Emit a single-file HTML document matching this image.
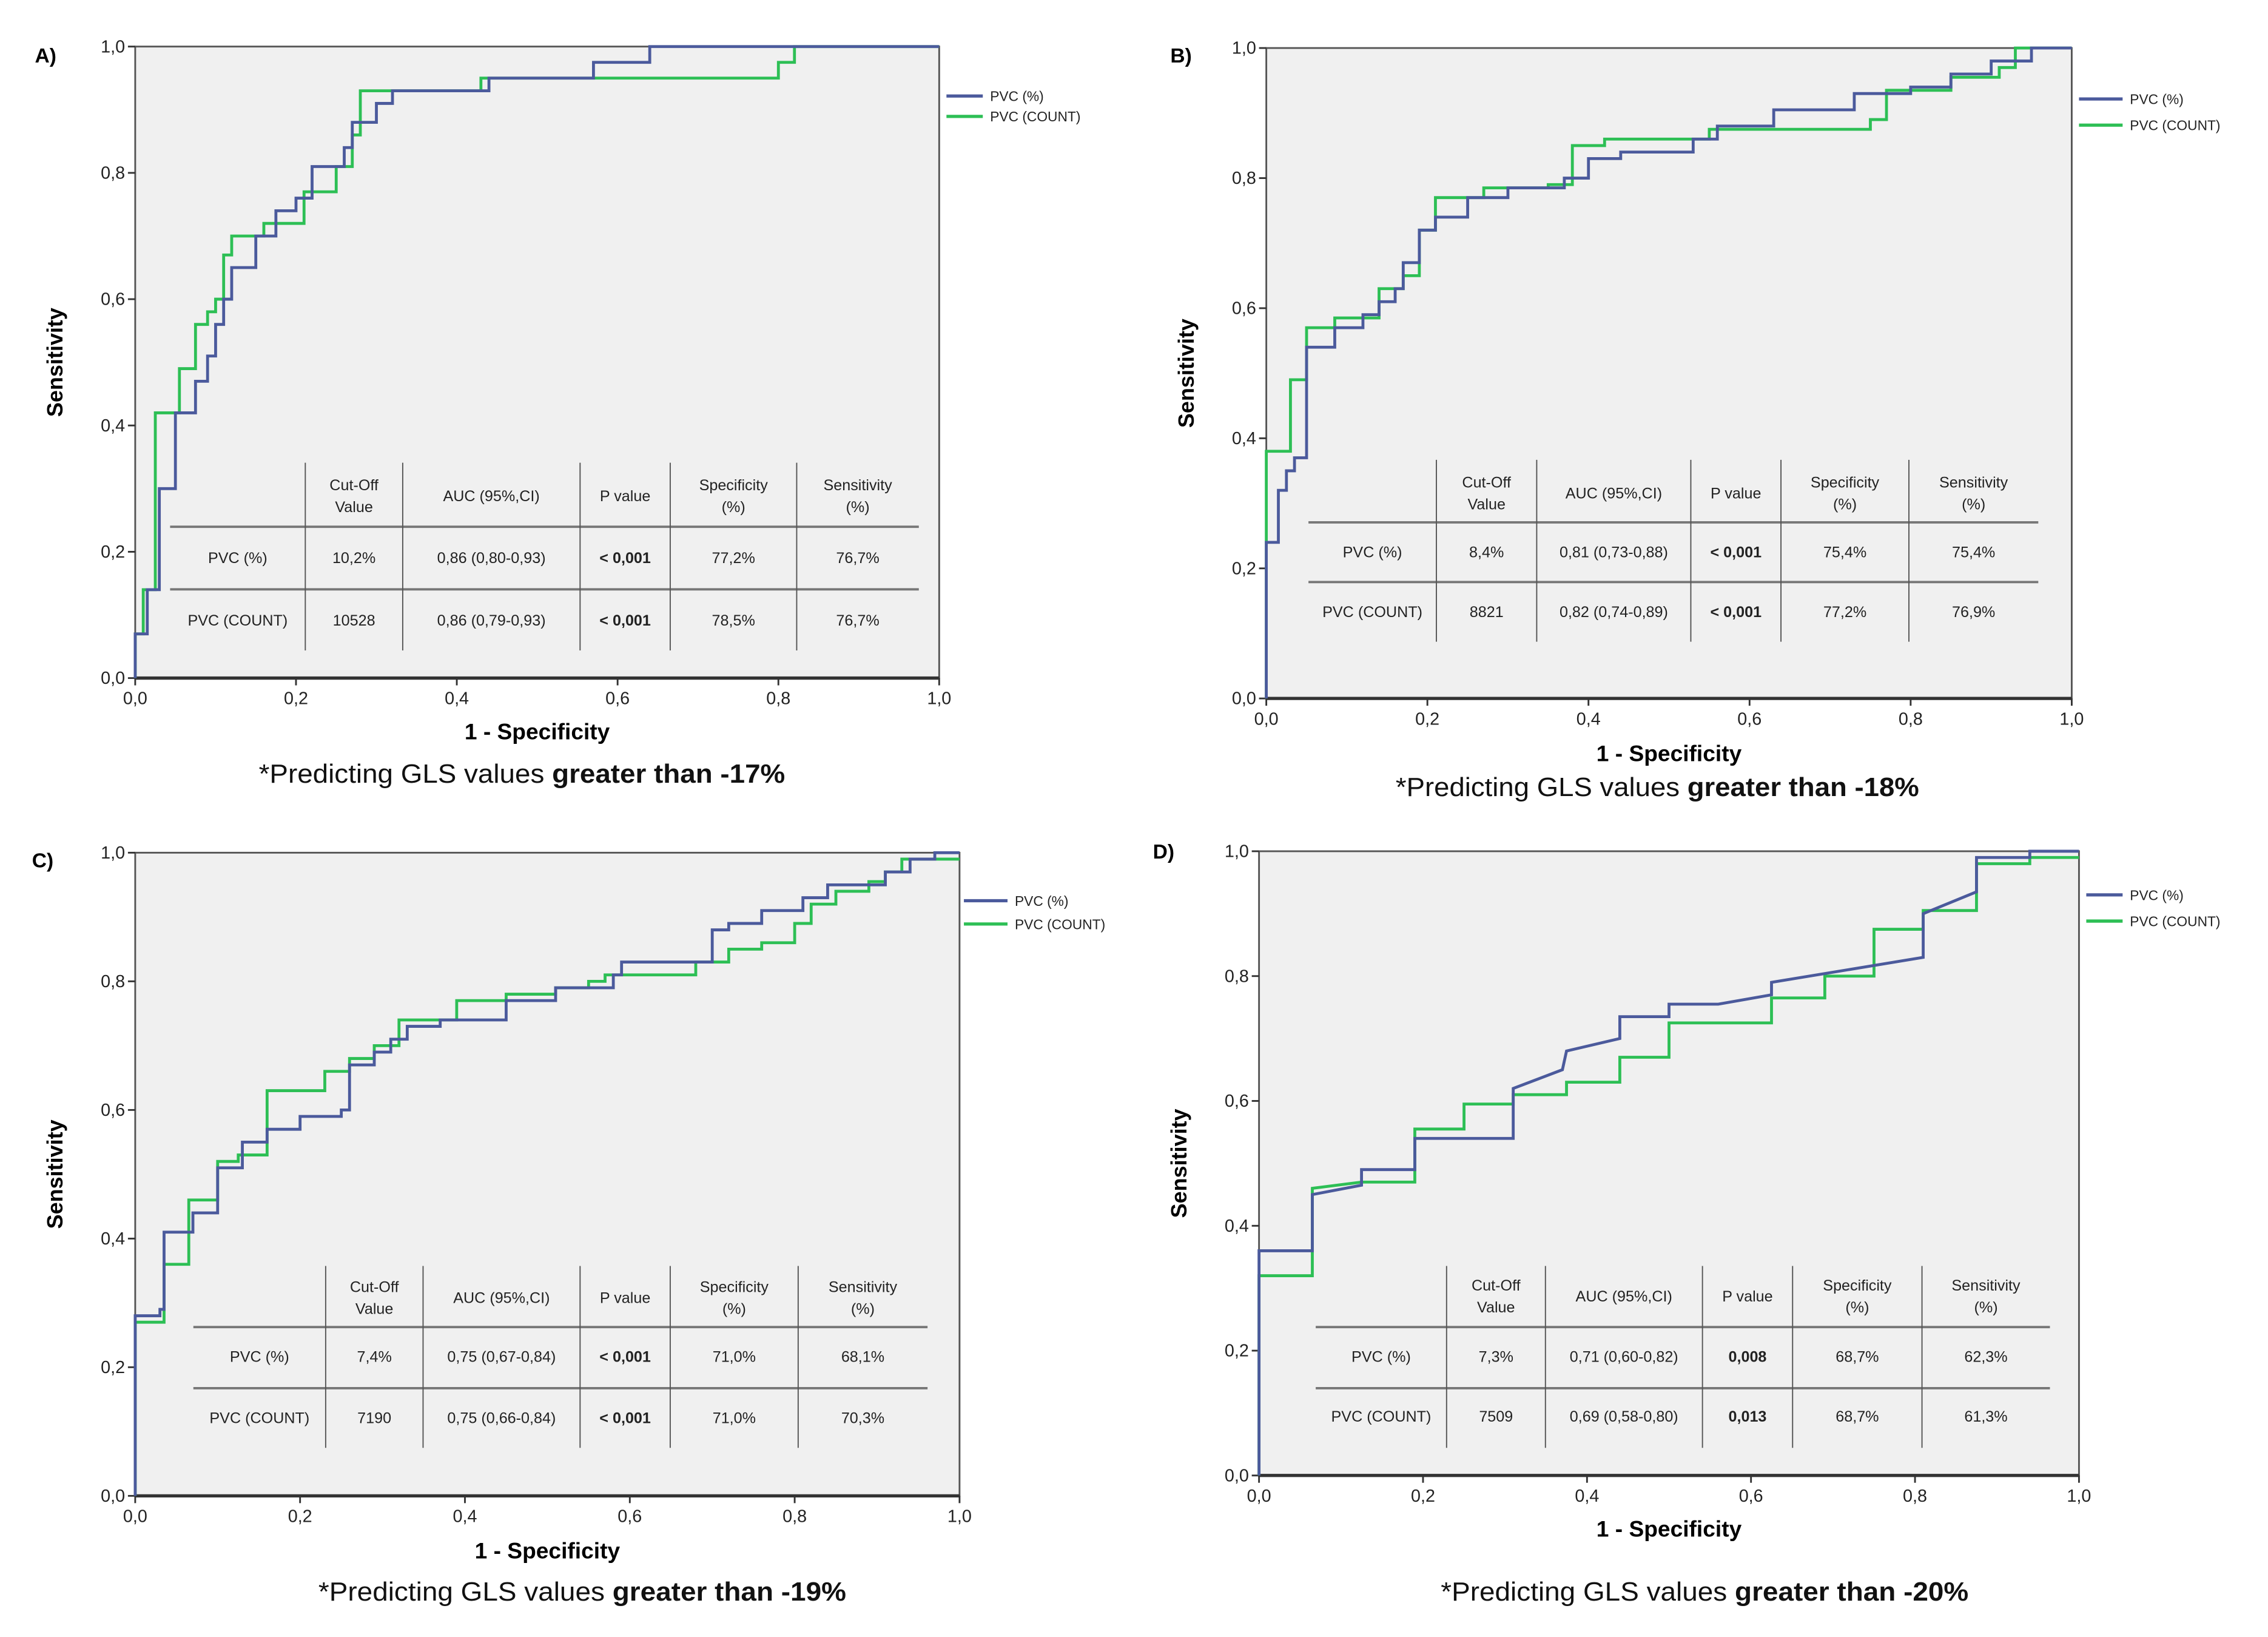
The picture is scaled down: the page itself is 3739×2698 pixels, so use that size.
<!DOCTYPE html>
<html><head><meta charset="utf-8"><style>
html,body{margin:0;padding:0;background:#fff}
svg{display:block}
text{font-family:"Liberation Sans",sans-serif}
</style></head><body>
<svg id="fig" width="3739" height="2698" viewBox="0 0 1560 1125" preserveAspectRatio="none" xmlns="http://www.w3.org/2000/svg"></svg>
<script>
const ticks = [0, 0.2, 0.4, 0.6, 0.8, 1.0];
const tickLabels = ["0,0","0,2","0,4","0,6","0,8","1,0"];
const seriesNames = ["PVC (%)","PVC (COUNT)"];
const tableHeader = [["",""],["Cut-Off","Value"],["AUC (95%,CI)",""],["P value",""],["Specificity","(%)"],["Sensitivity","(%)"]];

const aBlueX=[0,0,0.015,0.03,0.05,0.075,0.09,0.10,0.11,0.12,0.15,0.175,0.20,0.22,0.26,0.27,0.30,0.32,0.44,0.57,0.64,1];
const aBlueY=[0,0.07,0.14,0.30,0.42,0.47,0.51,0.56,0.60,0.65,0.70,0.74,0.76,0.81,0.84,0.88,0.91,0.93,0.95,0.975,1,1];
const aGreenX=[0,0,0.01,0.025,0.055,0.075,0.09,0.10,0.11,0.12,0.16,0.21,0.25,0.27,0.28,0.43,0.80,0.82,1];
const aGreenY=[0,0.07,0.14,0.42,0.49,0.56,0.58,0.60,0.67,0.70,0.72,0.77,0.81,0.86,0.93,0.95,0.975,1,1];
const bBlueX=[0,0,0.015,0.025,0.035,0.05,0.085,0.12,0.14,0.16,0.17,0.19,0.21,0.25,0.30,0.37,0.40,0.44,0.53,0.56,0.63,0.73,0.80,0.85,0.90,0.95,1];
const bBlueY=[0,0.24,0.32,0.35,0.37,0.54,0.57,0.59,0.61,0.63,0.67,0.72,0.74,0.77,0.785,0.80,0.83,0.84,0.86,0.88,0.905,0.93,0.94,0.96,0.98,1,1];
const bGreenX=[0,0,0.03,0.05,0.085,0.14,0.17,0.19,0.21,0.27,0.35,0.38,0.42,0.55,0.75,0.77,0.85,0.91,0.93,1];
const bGreenY=[0,0.38,0.49,0.57,0.585,0.63,0.65,0.72,0.77,0.785,0.79,0.85,0.86,0.875,0.89,0.935,0.955,0.97,1,1];
const cBlueX=[0,0,0.03,0.035,0.07,0.10,0.13,0.16,0.20,0.25,0.26,0.29,0.31,0.33,0.37,0.45,0.51,0.58,0.59,0.70,0.72,0.76,0.81,0.84,0.91,0.94,0.97,1];
const cBlueY=[0,0.28,0.29,0.41,0.44,0.51,0.55,0.57,0.59,0.60,0.67,0.69,0.71,0.73,0.74,0.77,0.79,0.81,0.83,0.88,0.89,0.91,0.93,0.95,0.97,0.99,1,1];
const cGreenX=[0,0,0.035,0.065,0.10,0.125,0.16,0.23,0.26,0.29,0.32,0.39,0.45,0.51,0.55,0.57,0.68,0.72,0.76,0.80,0.82,0.85,0.89,0.91,0.93,1];
const cGreenY=[0,0.27,0.36,0.46,0.52,0.53,0.63,0.66,0.68,0.70,0.74,0.77,0.78,0.79,0.80,0.81,0.83,0.85,0.86,0.89,0.92,0.94,0.955,0.97,0.99,0.99];
const dBlueX=[0,0,0.065,0.065,0.125,0.125,0.19,0.19,0.31,0.31,0.37,0.375,0.44,0.44,0.50,0.50,0.56,0.625,0.625,0.81,0.81,0.875,0.875,0.94,0.94,1];
const dBlueY=[0,0.36,0.36,0.45,0.465,0.49,0.49,0.54,0.54,0.62,0.65,0.68,0.70,0.735,0.735,0.755,0.755,0.77,0.79,0.83,0.90,0.935,0.99,0.99,1,1];
const dGreenX=[0,0,0.065,0.065,0.125,0.19,0.19,0.25,0.25,0.31,0.31,0.375,0.375,0.44,0.44,0.50,0.50,0.625,0.625,0.69,0.69,0.75,0.75,0.81,0.81,0.875,0.875,0.94,0.94,1];
const dGreenY=[0,0.32,0.32,0.46,0.47,0.47,0.555,0.555,0.595,0.595,0.61,0.61,0.63,0.63,0.67,0.67,0.725,0.725,0.765,0.765,0.80,0.80,0.875,0.875,0.905,0.905,0.98,0.98,0.99,0.99];

const aRow1=["PVC (%)","10,2%","0,86 (0,80-0,93)","< 0,001","77,2%","76,7%"];
const aRow2=["PVC (COUNT)","10528","0,86 (0,79-0,93)","< 0,001","78,5%","76,7%"];
const bRow1=["PVC (%)","8,4%","0,81 (0,73-0,88)","< 0,001","75,4%","75,4%"];
const bRow2=["PVC (COUNT)","8821","0,82 (0,74-0,89)","< 0,001","77,2%","76,9%"];
const cRow1=["PVC (%)","7,4%","0,75 (0,67-0,84)","< 0,001","71,0%","68,1%"];
const cRow2=["PVC (COUNT)","7190","0,75 (0,66-0,84)","< 0,001","71,0%","70,3%"];
const dRow1=["PVC (%)","7,3%","0,71 (0,60-0,82)","0,008","68,7%","62,3%"];
const dRow2=["PVC (COUNT)","7509","0,69 (0,58-0,80)","0,013","68,7%","61,3%"];

const panels=[
 {id:"a",label:"A)",lx:24,ly:43,x0:93,x1:646,y0:32,y1:466,blue:[aBlueX,aBlueY],green:[aGreenX,aGreenY],step:true,
  cols:[117,210,277,399,461,548,632],hy:[362,405],vy:[318,447],ty:[333,348,383,426],leg:[651,676,66,80],xt:505,cap:[178,540,535],capNum:"-17%",rows:[aRow1,aRow2]},
 {id:"b",label:"B)",lx:805,ly:43,x0:871,x1:1425,y0:33,y1:480,blue:[bBlueX,bBlueY],green:[bGreenX,bGreenY],step:true,
  cols:[900,988,1057,1163,1225,1313,1402],hy:[359,400],vy:[316,441],ty:[331,346,379,420],leg:[1430,1460,68,86],xt:520,cap:[960,1320,544],capNum:"-18%",rows:[bRow1,bRow2]},
 {id:"c",label:"C)",lx:22,ly:596,x0:93,x1:660,y0:586,y1:1028,blue:[cBlueX,cBlueY],green:[cGreenX,cGreenY],step:true,
  cols:[133,224,291,399,461,549,638],hy:[912,954],vy:[870,995],ty:[884,899,932,974],leg:[663,693,619,635],xt:1068,cap:[219,582,1097],capNum:"-19%",rows:[cRow1,cRow2]},
 {id:"d",label:"D)",lx:793,ly:590,x0:866,x1:1430,y0:585,y1:1014,blue:[dBlueX,dBlueY],green:[dGreenX,dGreenY],step:false,
  cols:[905,995,1063,1171,1233,1322,1410],hy:[912,954],vy:[870,995],ty:[883,898,932,973],leg:[1435,1460,615,633],xt:1053,cap:[991,1354,1097],capNum:"-20%",rows:[dRow1,dRow2]}
];

const NS="http://www.w3.org/2000/svg";
const svg=document.getElementById('fig');
function mk(tag,attrs,parent,txt){const e=document.createElementNS(NS,tag);for(const k in attrs)e.setAttribute(k,attrs[k]);if(txt!==undefined)e.textContent=txt;(parent||svg).appendChild(e);return e;}

panels.forEach(p=>{
  const g=mk('g',{});
  
  
  const sx=v=>p.x0+v*(p.x1-p.x0);
  const sy=v=>p.y1-v*(p.y1-p.y0);
  const bg=mk('rect',{x:p.x0,y:p.y0,width:p.x1-p.x0,height:p.y1-p.y0,fill:'#f0f0f0',stroke:'#555','stroke-width':1.2},g);
  
  
  const lab=mk('text',{x:p.lx,y:p.ly,'font-size':14,'font-weight':'bold',fill:'#000'},g,p.label);
  
  
  ticks.forEach((t,i)=>{
    mk('line',{x1:p.x0-5,x2:p.x0,y1:sy(t),y2:sy(t),stroke:'#333','stroke-width':1.2},g);
    const yl=mk('text',{x:p.x0-7,y:sy(t)+4,'font-size':12,'text-anchor':'end',fill:'#222'},g,tickLabels[i]);
    
    
    mk('line',{x1:sx(t),x2:sx(t),y1:p.y1,y2:p.y1+5,stroke:'#333','stroke-width':1.2},g);
    const xl=mk('text',{x:sx(t),y:p.y1+18,'font-size':12,'text-anchor':'middle',fill:'#222'},g,tickLabels[i]);
    
    
  });
  mk('line',{x1:p.x0,x2:p.x1,y1:p.y1,y2:p.y1,stroke:'#333','stroke-width':2.2},g);
  const cy=(p.y0+p.y1)/2;
  const yt=mk('text',{x:0,y:0,transform:`translate(${p.x0-50},${cy}) rotate(-90)`,'font-size':15,'font-weight':'bold','text-anchor':'middle',fill:'#000'},g,'Sensitivity');
  
  
  const xt=mk('text',{x:(p.x0+p.x1)/2,y:p.xt+3,'font-size':15.5,'font-weight':'bold','text-anchor':'middle',fill:'#000'},g,'1 - Specificity');
  
  
  const cap=mk('text',{x:p.cap[0],y:p.cap[2]+3,'font-size':18,textLength:p.cap[1]-p.cap[0],lengthAdjust:'spacingAndGlyphs',fill:'#111'},g);
  
  
  mk('tspan',{},cap,'*Predicting GLS values ');
  mk('tspan',{'font-weight':'bold'},cap,'greater than '+p.capNum);
  const tg=mk('g',{},g);
  
  
  p.hy.forEach(y=>mk('line',{x1:p.cols[0],x2:p.cols[6],y1:y,y2:y,stroke:'#777','stroke-width':1.6},tg));
  for(let i=1;i<6;i++) mk('line',{x1:p.cols[i],x2:p.cols[i],y1:p.vy[0],y2:p.vy[1],stroke:'#555','stroke-width':0.8},tg);
  for(let c=0;c<6;c++){
    const cx=(p.cols[c]+p.cols[c+1])/2;
    const h=tableHeader[c];
    if(h[1]){mk('text',{x:cx,y:p.ty[0]+4,'font-size':10.5,'text-anchor':'middle',fill:'#222'},tg,h[0]);mk('text',{x:cx,y:p.ty[1]+4,'font-size':10.5,'text-anchor':'middle',fill:'#222'},tg,h[1]);}
    else if(h[0]) mk('text',{x:cx,y:(p.ty[0]+p.ty[1])/2+4,'font-size':10.5,'text-anchor':'middle',fill:'#222'},tg,h[0]);
    p.rows.forEach((r,ri)=>{
      const isNum=(c===1||c===2||c===4||c===5);
      const bold=(c===3);
      mk('text',{x:cx,y:p.ty[2+ri]+4,'font-size':10.5,'font-family':isNum?'Liberation Serif, serif':'Liberation Sans, sans-serif','font-weight':bold?'bold':'normal','text-anchor':'middle',fill:'#222'},tg,r[c]);
    });
  }
  function path(xs,ys,step){
    let d=`M${sx(xs[0])},${sy(ys[0])}`;
    for(let i=1;i<xs.length;i++){
      if(step) d+=` L${sx(xs[i])},${sy(ys[i-1])}`;
      d+=` L${sx(xs[i])},${sy(ys[i])}`;
    }
    return d;
  }
  const gl=mk('path',{d:path(p.green[0],p.green[1],p.step),fill:'none',stroke:'#2dbf55','stroke-width':2},g);
  
  
  const bl=mk('path',{d:path(p.blue[0],p.blue[1],p.step),fill:'none',stroke:'#4b5a9c','stroke-width':2},g);
  
  
  const lg=mk('g',{},g);
  
  
  const L=p.leg;
  mk('line',{x1:L[0],x2:L[1],y1:L[2],y2:L[2],stroke:'#4b5a9c','stroke-width':2.2},lg);
  mk('line',{x1:L[0],x2:L[1],y1:L[3],y2:L[3],stroke:'#2dbf55','stroke-width':2.2},lg);
  mk('text',{x:L[1]+5,y:L[2]+3.5,'font-size':9.5,'font-family':'Liberation Serif, serif',fill:'#222'},lg,seriesNames[0]);
  mk('text',{x:L[1]+5,y:L[3]+3.5,'font-size':9.5,'font-family':'Liberation Serif, serif',fill:'#222'},lg,seriesNames[1]);
});
</script>
</body></html>
